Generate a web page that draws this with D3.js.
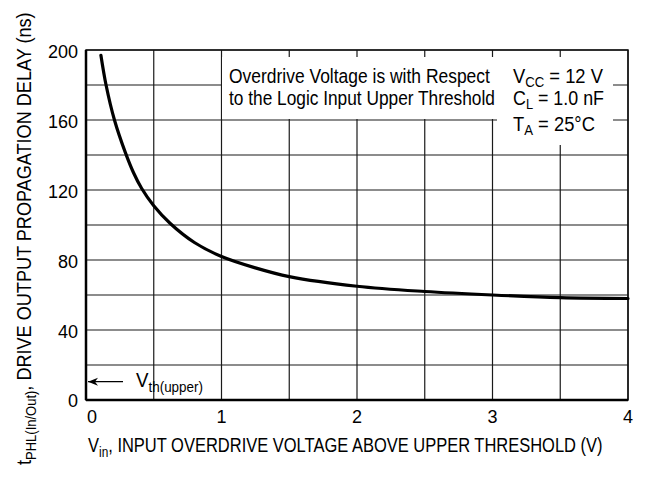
<!DOCTYPE html>
<html>
<head>
<meta charset="utf-8">
<script src="https://cdn.jsdelivr.net/npm/d3@7"></script>
<style>
  body { margin: 0; background: #fff; }
  svg text { font-family: "Liberation Sans Narrow", "Liberation Sans", Arial, sans-serif; fill: #000; }
  svg text.tick { font-family: "Liberation Sans", Arial, sans-serif; }
</style>
</head>
<body>
<svg id="chart" width="647" height="477"></svg>
<script>
// curve: overdrive (V) vs propagation delay (ns)
var vin   = [0.11, 0.148, 0.21, 0.29, 0.35, 0.41, 0.5, 0.62, 0.8, 1.0, 1.25, 1.5, 2.0, 2.5, 3.0, 3.5, 4.0];
var delay = [197, 180, 160, 141.5, 130, 121, 111, 101, 90, 82, 75.5, 70.5, 65, 62, 60, 58.5, 58];

var xTicks = [0, 1, 2, 3, 4];
var yTicks = [0, 40, 80, 120, 160, 200];
var xGrid = d3.range(0, 4.01, 0.5);
var yGrid = d3.range(0, 201, 20);

var notes = ["Overdrive Voltage is with Respect", "to the Logic Input Upper Threshold"];
var noteWidths = [261, 266];
var conds = [["V", "CC", " = 12 V"], ["C", "L", " = 1.0 nF"], ["T", "A", " = 25°C"]];
var condWidths = [90, 91, 82];

var svg = d3.select("#chart");
var x = d3.scaleLinear().domain([0, 4]).range([86, 628]);
var y = d3.scaleLinear().domain([0, 200]).range([400, 50]);

// grid
svg.append("g").selectAll("line").data(xGrid).enter().append("line")
	.attr("x1", function(d){ return x(d); }).attr("x2", function(d){ return x(d); })
	.attr("y1", y(0)).attr("y2", y(200))
	.attr("stroke", "#1a1a1a").attr("stroke-width", 1.2);
svg.append("g").selectAll("line").data(yGrid).enter().append("line")
	.attr("y1", function(d){ return y(d); }).attr("y2", function(d){ return y(d); })
	.attr("x1", x(0)).attr("x2", x(4))
	.attr("stroke", "#1a1a1a").attr("stroke-width", 1.2);

// white boxes behind the notes
svg.append("rect").attr("x", 222).attr("y", 57).attr("width", 275).attr("height", 62).attr("fill", "#fff");
svg.append("rect").attr("x", 497).attr("y", 57).attr("width", 116).attr("height", 88).attr("fill", "#fff");

// frame
svg.append("rect").attr("x", x(0)).attr("y", y(200))
	.attr("width", x(4) - x(0)).attr("height", y(0) - y(200))
	.attr("fill", "none").attr("stroke", "#111").attr("stroke-width", 1.5);
svg.append("line").attr("x1", x(0)).attr("x2", x(4)).attr("y1", y(0)).attr("y2", y(0))
	.attr("stroke", "#000").attr("stroke-width", 2.5);
svg.append("line").attr("x1", x(0)).attr("x2", x(0)).attr("y1", y(0)).attr("y2", y(200))
	.attr("stroke", "#000").attr("stroke-width", 2.5);

// curve
var line = d3.line()
	.x(function(d){ return x(d[0]); })
	.y(function(d){ return y(d[1]); })
	.curve(d3.curveCatmullRom.alpha(0.5));
svg.append("path").datum(d3.zip(vin, delay))
	.attr("d", line).attr("fill", "none")
	.attr("stroke", "#000").attr("stroke-width", 3.2).attr("stroke-linecap", "round");

// tick labels
svg.append("g").selectAll("text").data(xTicks).enter().append("text")
	.attr("class", "tick")
	.attr("x", function(d){ return x(d) + (d == 0 ? 6 : 0); }).attr("y", 423)
	.attr("text-anchor", "middle").attr("font-size", 18)
	.text(function(d){ return d; });
svg.append("g").selectAll("text").data(yTicks).enter().append("text")
	.attr("class", "tick")
	.attr("x", 78).attr("y", function(d){ return y(d) + (d == 0 ? 7 : 8); })
	.attr("text-anchor", "end").attr("font-size", 18)
	.text(function(d){ return d; });

// squeeze a text horizontally so it spans w pixels from (px, py)
function fit(t, px, py, w, rot) {
	var bw = t.node().getComputedTextLength();
	var s = w / bw;
	t.attr("transform", "translate(" + px + "," + py + ")" + (rot ? " rotate(-90)" : "") + " scale(" + s + ",1)");
}
function subText(sel, main, sub, rest, dy) {
	sel.append("tspan").text(main);
	sel.append("tspan").attr("dy", dy).attr("font-size", 14).text(sub);
	sel.append("tspan").attr("dy", -dy).text(rest);
}

// notes
notes.forEach(function(n, i){
	var t = svg.append("text").attr("font-size", 19.5).text(n);
	fit(t, 229, 83 + i * 21.5, noteWidths[i]);
});
var condY = [83, 105, 131];
conds.forEach(function(c, i){
	var t = svg.append("text").attr("font-size", 19.5);
	subText(t, c[0], c[1], c[2], 3.5);
	fit(t, 513, condY[i], condWidths[i]);
});

// threshold arrow
svg.append("defs").append("marker").attr("id", "arr")
	.attr("viewBox", "0 0 10 10").attr("refX", 10).attr("refY", 5)
	.attr("markerWidth", 12).attr("markerHeight", 10).attr("orient", "auto")
	.attr("markerUnits", "userSpaceOnUse")
	.append("path").attr("d", "M0,1 L10,5 L0,9 L3,5 Z").attr("fill", "#000");
svg.append("line").attr("x1", 123).attr("x2", x(0) + 2).attr("y1", y(10.5)).attr("y2", y(10.5))
	.attr("stroke", "#000").attr("stroke-width", 1.4).attr("marker-end", "url(#arr)");
var vt = svg.append("text").attr("font-size", 19.5);
subText(vt, "V", "th(upper)", "", 5);
fit(vt, 136, 387, 67);

// axis titles
var xt = svg.append("text").attr("font-size", 19.5);
subText(xt, "V", "in", ", INPUT OVERDRIVE VOLTAGE ABOVE UPPER THRESHOLD (V)", 5);
fit(xt, 88, 452, 515);
var yt = svg.append("text").attr("font-size", 19.5);
subText(yt, "t", "PHL(In/Out)", ", DRIVE OUTPUT PROPAGATION DELAY (ns)", 5);
fit(yt, 31, 465, 453, true);
</script>
</body>
</html>
